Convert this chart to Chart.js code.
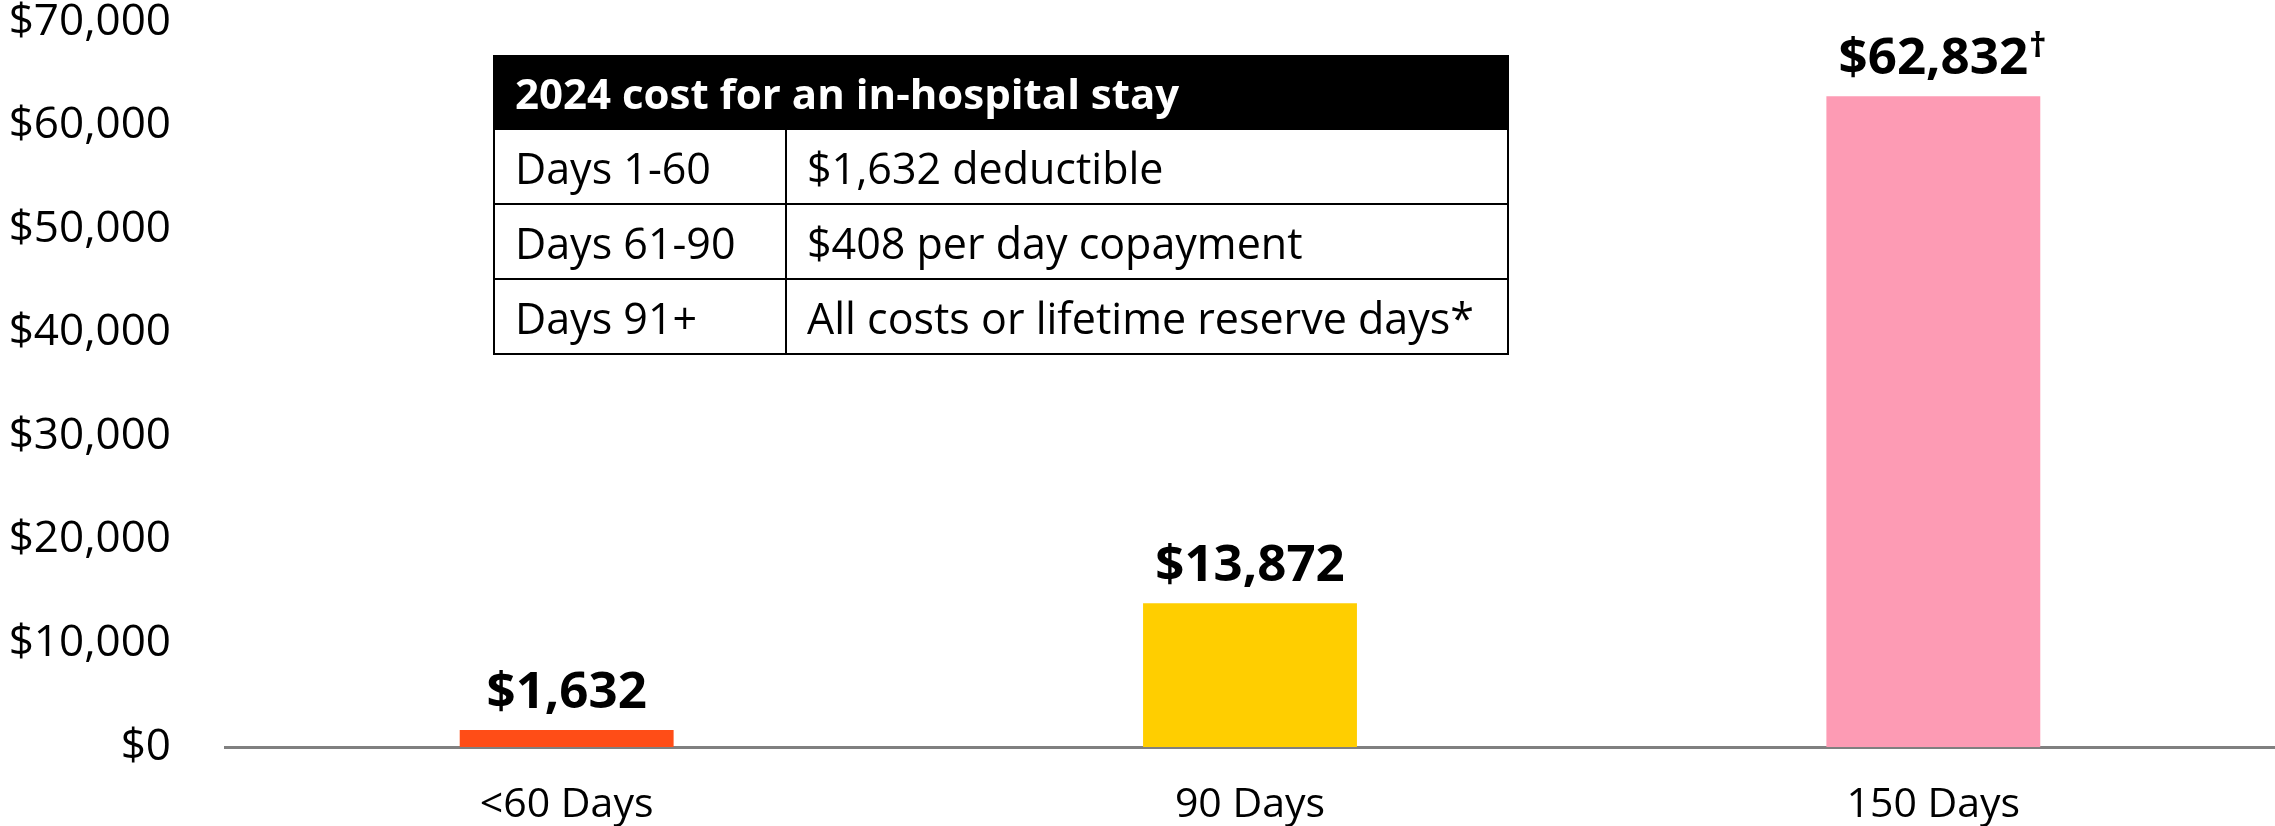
<!DOCTYPE html>
<html>
<head>
<meta charset="utf-8">
<script src="https://cdn.jsdelivr.net/npm/chart.js@4.4.1/dist/chart.umd.min.js"></script>
<style>
  html, body { margin:0; padding:0; background:#fff; }
  #wrap { position:relative; width:2275px; height:826px; }
  #c { position:absolute; left:0; top:0; }
  table#info { position:absolute; left:493px; top:55px; width:1016px; border-collapse:collapse;
    font-family:"Open Sans", sans-serif; font-size:43px; color:#000; }
  #info th { background:#000; color:#fff; text-align:left; font-weight:700; font-size:42px; height:71px;
    padding:0 0 0 20px; border:2px solid #000; line-height:1; }
  #info td { height:71px; padding:2px 0 0 20px; border:2px solid #000; white-space:nowrap; line-height:1; }
  #info td.c1 { width:270px; }
</style>
</head>
<body>
<div id="wrap">
<canvas id="c" width="2275" height="826"></canvas>
<table id="info"></table>
</div>
<script>
const categories = ['<60 Days', '90 Days', '150 Days'];
const costs = [1632, 13872, 62832];
const costLabels = ['$1,632', '$13,872', '$62,832'];
const costMarks = ['', '', '†'];
const barColors = ['#FF4D17', '#FFCE00', '#FD9BB4'];
const tableTitle = '2024 cost for an in-hospital stay';
const tablePeriods = ['Days 1-60', 'Days 61-90', 'Days 91+'];
const tableCosts = ['$1,632 deductible', '$408 per day copayment', 'All costs or lifetime reserve days*'];

// build table
const tbl = document.getElementById('info');
let html = '<tr><th colspan="2">' + tableTitle + '</th></tr>';
tablePeriods.forEach((p, i) => {
  html += '<tr><td class="c1">' + p + '</td><td>' + tableCosts[i] + '</td></tr>';
});
tbl.innerHTML = html;

const FONT = '"Open Sans", sans-serif';

const valueLabels = {
  id: 'valueLabels',
  afterDatasetsDraw(chart) {
    const ctx = chart.ctx;
    const meta = chart.getDatasetMeta(0);
    ctx.save();
    meta.data.forEach((bar, i) => {
      ctx.font = '700 51px ' + FONT;
      ctx.fillStyle = '#000';
      ctx.textAlign = 'center';
      ctx.textBaseline = 'alphabetic';
      const y = bar.y - 22;
      ctx.fillText(costLabels[i], bar.x, y);
      if (costMarks[i]) {
        const w = ctx.measureText(costLabels[i]).width;
        ctx.font = '700 34px ' + FONT;
        ctx.textAlign = 'left';
        ctx.fillText(costMarks[i], bar.x + w / 2 + 1, y - 17);
      }
    });
    ctx.restore();
  }
};

new Chart(document.getElementById('c'), {
  type: 'bar',
  data: {
    labels: categories,
    datasets: [{
      data: costs,
      backgroundColor: barColors,
      borderWidth: 0,
      barPercentage: 0.313,
      categoryPercentage: 1.0
    }]
  },
  options: {
    responsive: false,
    animation: false,
    devicePixelRatio: 1,
    layout: { padding: { top: 22, right: 0, bottom: 0, left: 0 } },
    plugins: { legend: { display: false }, tooltip: { enabled: false } },
    scales: {
      x: {
        grid: { display: false, drawTicks: false },
        border: { display: true, color: '#808080', width: 3 },
        ticks: { color: '#000', font: { family: FONT, size: 41 }, padding: 34 },
        afterFit(s) { s.height = 79; s.paddingLeft = 0; s.paddingRight = 0; }
      },
      y: {
        min: 0, max: 70000,
        grid: { display: false, drawTicks: false },
        border: { display: false },
        ticks: {
          stepSize: 10000,
          color: '#000',
          font: { family: FONT, size: 44 },
          padding: 54,
          callback: v => '$' + v.toLocaleString('en-US')
        },
        afterFit(s) { s.width = 225; s.paddingTop = 0; s.paddingBottom = 0; }
      }
    }
  },
  plugins: [valueLabels]
});
</script>
</body>
</html>
